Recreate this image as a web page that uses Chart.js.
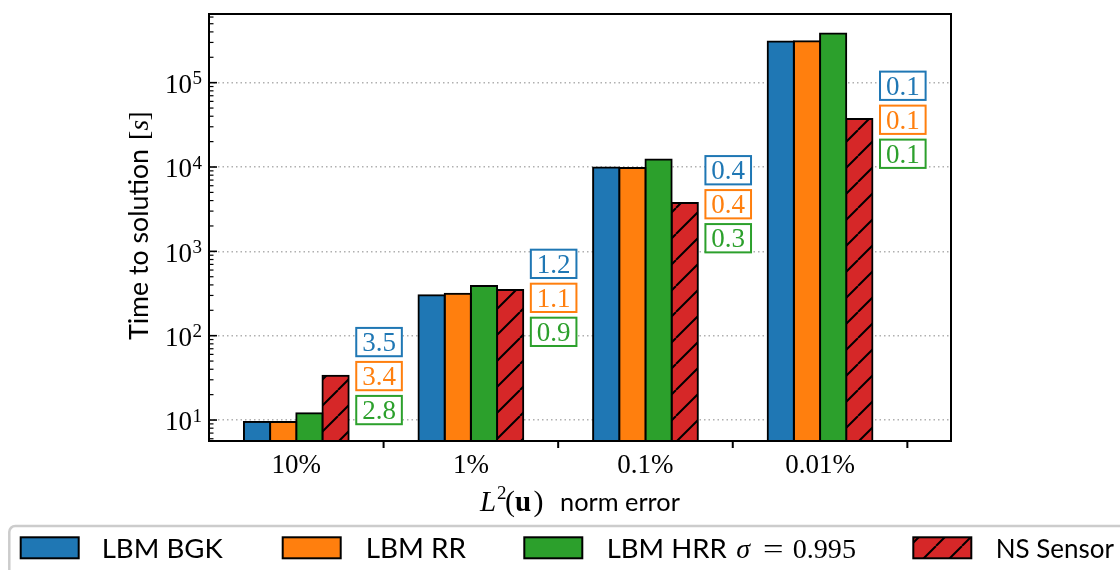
<!DOCTYPE html>
<html><head><meta charset="utf-8">
<script src="https://cdn.jsdelivr.net/npm/chart.js@4.4.1/dist/chart.umd.min.js"></script>
<style>html,body{margin:0;padding:0;background:#fff;overflow:hidden}#wrap{position:relative;width:1120px;height:570px}canvas{display:block}</style>
</head><body><div id="wrap"><canvas id="c" width="1120" height="570"></canvas></div>
<script>
// ---------------- data ----------------
const categories = ['10%', '1%', '0.1%', '0.01%'];
const seriesNames = ['LBM BGK', 'LBM RR', 'LBM HRR', 'NS Sensor'];
const lbmBGK = [9.5, 301, 9840, 307000];
const lbmRR = [9.5, 315, 9760, 310000];
const lbmHRR = [12.0, 388, 12250, 383000];
const nsSensor = [33.5, 348, 3750, 37000];
const speedupBGK = ['3.5', '1.2', '0.4', '0.1'];
const speedupRR = ['3.4', '1.1', '0.4', '0.1'];
const speedupHRR = ['2.8', '0.9', '0.3', '0.1'];
const yTickValues = [10, 100, 1000, 10000, 100000];
const yTickExponents = ['1', '2', '3', '4', '5'];

// ---------------- styles ----------------
const colors = ['#1f77b4', '#ff7f0e', '#2ca02c', '#d62728'];
const SERIF = '"Liberation Serif", "DejaVu Serif", serif';
const SANS = 'Lato, "Liberation Sans", sans-serif';

const canvas = document.getElementById('c');
const mainCtx = canvas.getContext('2d');

const hatch = (() => {
  const T = 26;
  const c = document.createElement('canvas'); c.width = T; c.height = T;
  const g = c.getContext('2d');
  g.fillStyle = colors[3]; g.fillRect(0, 0, T, T);
  g.strokeStyle = '#000'; g.lineWidth = 2;
  g.beginPath();
  for (const k of [-1, 0, 1]) { g.moveTo(k * T, T); g.lineTo(k * T + T, 0); }
  g.stroke();
  return mainCtx.createPattern(c, 'repeat');
})();

function fitText(ctx, text, x, y, w, family, style) {
  ctx.font = `${style || ''} 100px ${family}`;
  const m = ctx.measureText(text).width;
  const size = 100 * w / m;
  ctx.font = `${style || ''} ${size}px ${family}`;
  ctx.fillText(text, x, y);
  return size;
}

const decor = {
  id: 'decor',
  afterDatasetsDraw(chart, args, opts) {
    const ctx = chart.ctx;
    const xs = chart.scales.x, ys = chart.scales.y;
    const { left, right, top, bottom } = chart.chartArea;
    ctx.save();

    // speed-up annotation boxes
    const rows = [speedupBGK, speedupRR, speedupHRR];
    const boxW = 45.6, boxH = 28.3, pitch = 34;
    ctx.textBaseline = 'alphabetic';
    categories.forEach((c, i) => {
      const cx = xs.getPixelForValue(i + opts.labelOffset);
      const cy0 = ys.getPixelForValue(opts.anchors[i]);
      rows.forEach((arr, r) => {
        const cy = cy0 + r * pitch;
        ctx.fillStyle = '#fff';
        ctx.fillRect(cx - boxW / 2, cy - boxH / 2, boxW, boxH);
        ctx.strokeStyle = colors[r]; ctx.lineWidth = 2;
        ctx.strokeRect(cx - boxW / 2, cy - boxH / 2, boxW, boxH);
        ctx.fillStyle = colors[r];
        ctx.font = `27px ${SERIF}`; ctx.textAlign = 'center';
        ctx.fillText(arr[i], cx, cy + 9.2);
      });
    });

    // frame
    ctx.strokeStyle = '#000'; ctx.lineWidth = 2;
    ctx.strokeRect(left, top, right - left, bottom - top);

    // y ticks (inward, with minors)
    for (let k = 0; k <= 6; k++) {
      for (let m = 1; m <= 9; m++) {
        const v = m * Math.pow(10, k);
        if (v < ys.min || v > ys.max) continue;
        const py = ys.getPixelForValue(v);
        ctx.lineWidth = m === 1 ? 1.6 : 1.2;
        ctx.beginPath(); ctx.moveTo(left, py); ctx.lineTo(left + (m === 1 ? 8 : 4.5), py); ctx.stroke();
      }
    }
    // x ticks between categories (outward)
    ctx.lineWidth = 2;
    categories.forEach((c, i) => {
      const px = xs.getPixelForValue(i + 0.5);
      ctx.beginPath(); ctx.moveTo(px, bottom); ctx.lineTo(px, bottom + 7); ctx.stroke();
    });

    // y tick labels 10^k
    ctx.fillStyle = '#000';
    ctx.textAlign = 'right';
    yTickValues.forEach((v, i) => {
      const py = ys.getPixelForValue(v);
      ctx.font = `19px ${SERIF}`;
      const supW = ctx.measureText(yTickExponents[i]).width;
      ctx.fillText(yTickExponents[i], 202, py + 1.5);
      ctx.font = `27px ${SERIF}`;
      ctx.fillText('10', 202 - supW - 0.5, py + 10.3);
    });

    // x tick labels
    ctx.textAlign = 'center';
    ctx.font = `27px ${SERIF}`;
    categories.forEach((c, i) => {
      ctx.fillText(c, xs.getPixelForValue(i), 473.3);
    });

    // x title  L^2(u) norm error
    ctx.textAlign = 'left';
    ctx.font = `italic 29px ${SERIF}`; ctx.fillText('L', 480, 510.7);
    ctx.font = `19px ${SERIF}`; ctx.fillText('2', 497, 499);
    ctx.font = `30px ${SERIF}`; ctx.fillText('(', 505, 510.7);
    ctx.font = `bold 29px ${SERIF}`; ctx.fillText('u', 515, 510.7);
    ctx.font = `30px ${SERIF}`; ctx.fillText(')', 533.5, 510.7);
    fitText(ctx, 'norm error', 560, 510.7, 120, SANS);

    // y title
    ctx.save();
    ctx.translate(148.3, 340);
    ctx.rotate(-Math.PI / 2);
    ctx.textAlign = 'left';
    fitText(ctx, 'Time to solution', 0, 0, 191, SANS);
    ctx.font = `27.5px ${SERIF}`; ctx.fillText('[', 200, 0);
    ctx.font = `italic 27.5px ${SERIF}`; ctx.fillText('s', 209.5, 0);
    ctx.font = `27.5px ${SERIF}`; ctx.fillText(']', 219.5, 0);
    ctx.restore();

    // legend
    const L = opts.legend;
    ctx.strokeStyle = '#cccccc'; ctx.lineWidth = 2.5;
    const lx = 9.3, ly = 526, lw = 1200, lh = 80, rad = 6;
    ctx.beginPath();
    ctx.moveTo(lx + rad, ly); ctx.lineTo(lx + lw, ly);
    ctx.moveTo(lx + rad, ly); ctx.arcTo(lx, ly, lx, ly + rad, rad); ctx.lineTo(lx, ly + lh);
    ctx.stroke();
    seriesNames.forEach((name, s) => {
      const sx = L.swatchX[s];
      ctx.fillStyle = s === 3 ? hatch : colors[s];
      ctx.fillRect(sx, 537.3, 58, 21);
      ctx.strokeStyle = '#000'; ctx.lineWidth = 2;
      ctx.strokeRect(sx, 537.3, 58, 21);
      ctx.fillStyle = '#000'; ctx.textAlign = 'left';
      fitText(ctx, name, L.textX[s], 558.3, L.textW[s], SANS);
    });
    // sigma part of third legend entry
    ctx.font = `italic 28px ${SERIF}`; ctx.fillText('σ', 736.2, 558.3);
    ctx.font = `28px ${SERIF}`;
    ctx.save(); ctx.translate(763, 0); ctx.scale(1.3, 1); ctx.fillText('=', 0, 558.3); ctx.restore();
    fitText(ctx, '0.995', 792.7, 558.3, 63.3, SERIF);

    ctx.restore();
  }
};

new Chart(canvas, {
  type: 'bar',
  data: {
    datasets: [lbmBGK, lbmRR, lbmHRR, nsSensor].map((vals, s) => ({
      label: seriesNames[s],
      data: vals.map((v, i) => ({ x: i, y: v })),
      backgroundColor: s === 3 ? hatch : colors[s],
      borderColor: '#000',
      borderWidth: 2,
      inflateAmount: 1,
      categoryPercentage: 0.6,
      barPercentage: 1.0
    }))
  },
  options: {
    responsive: false,
    animation: false,
    devicePixelRatio: 1,
    layout: { padding: { left: 209, right: 169, top: 14, bottom: 129 } },
    plugins: {
      legend: { display: false },
      tooltip: { enabled: false },
      decor: {
        labelOffset: 0.474,
        anchors: [84, 711, 9160, 91900],
        legend: {
          swatchX: [20.7, 282.7, 524.3, 913.3],
          textX: [101.7, 365.7, 606.7, 995.7],
          textW: [121, 100.3, 120, 118.3]
        }
      }
    },
    scales: {
      x: {
        type: 'linear', min: -0.5, max: 3.75, offset: false,
        grid: { display: false, drawTicks: false, tickLength: 0 }, border: { display: false },
        ticks: { display: false },
        afterBuildTicks: s => { s.ticks = categories.map((c, i) => ({ value: i })); }
      },
      y: {
        type: 'logarithmic', min: 5.64, max: 652000,
        grid: { color: '#b0b0b0', lineWidth: 1.5, drawTicks: false, tickLength: 0 },
        border: { display: false, dash: [1.5, 3] },
        ticks: { display: false },
        afterBuildTicks: s => { s.ticks = yTickValues.map(v => ({ value: v })); }
      }
    }
  },
  plugins: [decor]
});
</script>
</body></html>
